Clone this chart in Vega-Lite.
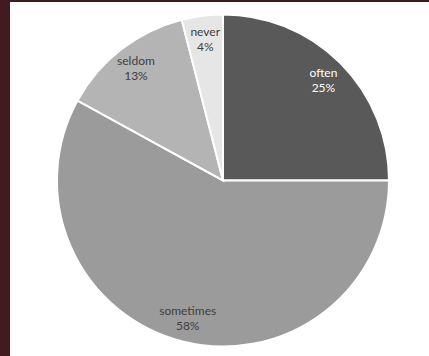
{
  "$schema": "https://vega.github.io/schema/vega-lite/v6.json",
  "autosize": {"type": "fit", "contains": "padding"},
  "width": 429,
  "height": 356,
  "background": "#431a1f",
  "padding": {"left": 10, "top": 2, "right": 0, "bottom": 0},
  "view": {"fill": "white", "stroke": null},
  "data": {
    "values": [
      {"cat": "often", "pct": 25, "idx": 1},
      {"cat": "sometimes", "pct": 58, "idx": 2},
      {"cat": "seldom", "pct": 13, "idx": 3},
      {"cat": "never", "pct": 4, "idx": 4}
    ]
  },
  "transform": [
    {"calculate": "datum.cat + '\\n' + datum.pct + '%'", "as": "label"}
  ],
  "encoding": {
    "theta": {"field": "pct", "type": "quantitative", "stack": true},
    "order": {"field": "idx", "type": "quantitative"}
  },
  "layer": [
    {
      "mark": {"type": "arc", "outerRadius": 166, "stroke": "white", "strokeWidth": 2, "xOffset": 3.5, "yOffset": 1.5},
      "encoding": {
        "color": {
          "field": "cat",
          "type": "nominal",
          "scale": {"domain": ["often", "sometimes", "seldom", "never"], "range": ["#595959", "#9b9b9b", "#b4b4b4", "#e6e6e6"]},
          "legend": null
        }
      }
    },
    {
      "mark": {"type": "text", "radius": 142, "lineBreak": "\n", "font": "Lato", "fontSize": 12, "lineHeight": 15, "xOffset": 3.5, "yOffset": -6},
      "encoding": {
        "text": {"field": "label"},
        "color": {
          "field": "cat",
          "type": "nominal",
          "scale": {"domain": ["often", "sometimes", "seldom", "never"], "range": ["#ffffff", "#404040", "#404040", "#404040"]},
          "legend": null
        }
      }
    }
  ],
  "resolve": {"scale": {"color": "independent"}}
}
